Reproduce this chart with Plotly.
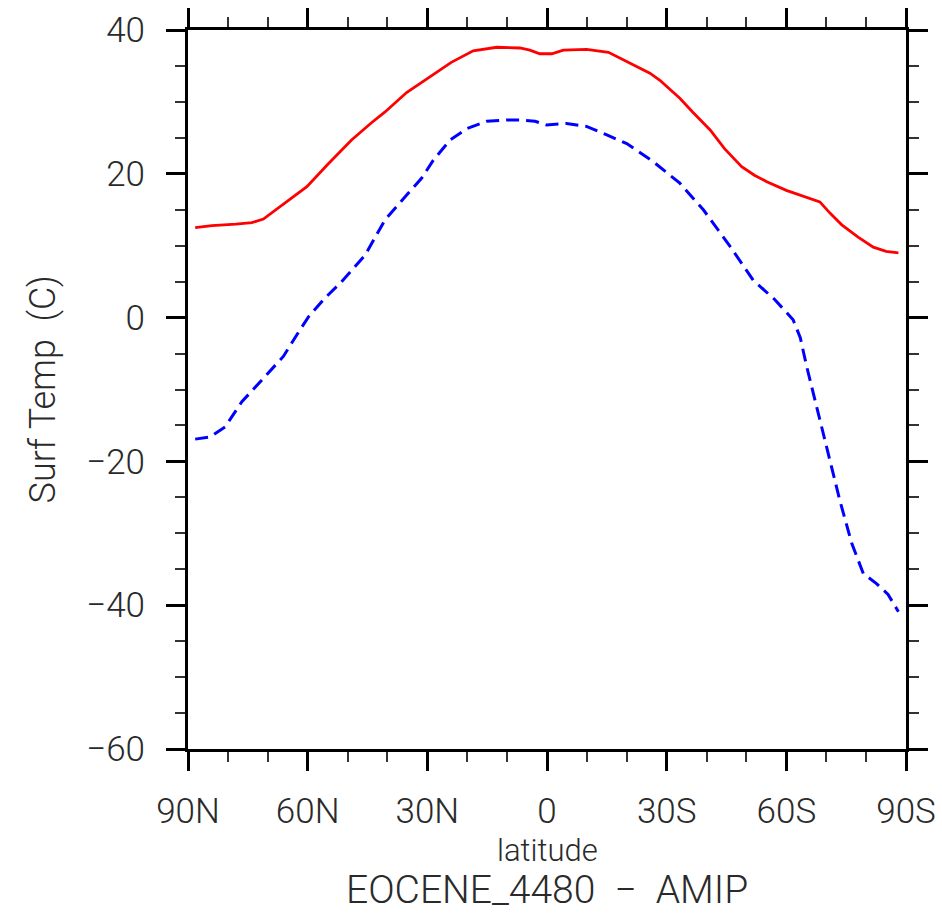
import plotly.graph_objects as go

# latitude (degrees, + = N) and surface temperature (C)
lat_red = [88.2, 84.0, 78.0, 74.0, 71.1, 66.0, 60.2, 55.0, 49.0, 44.0, 40.6, 35.2, 31.8, 28.1, 24.0,
           18.5, 12.6, 6.8, 4.3, 1.8, -1.2, -4.1, -9.9, -15.4, -20.0, -25.8, -28.3, -33.3,
           -36.5, -40.9, -44.5, -48.8, -52.0, -55.1, -60.0, -64.0, -68.4, -71.0, -73.9, -78.0,
           -81.8, -85.0, -88.1]
temp_red = [12.5, 12.8, 13.0, 13.2, 13.7, 15.8, 18.2, 21.3, 24.7, 27.1, 28.6, 31.3, 32.6, 34.0, 35.5,
            37.1, 37.6, 37.5, 37.2, 36.7, 36.7, 37.2, 37.3, 36.9, 35.6, 34.0, 33.0, 30.5,
            28.6, 26.1, 23.5, 21.0, 19.8, 18.9, 17.7, 16.9, 16.1, 14.5, 12.9, 11.2,
            9.8, 9.2, 9.0]

lat_blue = [88.2, 84.5, 80.7, 76.5, 70.7, 66.1, 62.5, 59.8, 55.7, 51.5, 45.6, 40.6, 34.8, 31.4,
            28.5, 24.3, 20.0, 15.1, 10.0, 6.8, 3.0, 0.1, -4.9, -9.9, -15.0, -20.0, -26.6, -33.3,
            -39.2, -45.9, -51.7, -57.2, -61.7, -63.5, -65.1, -67.6, -70.5, -73.4, -76.4,
            -79.3, -82.6, -85.5, -88.1]
temp_blue = [-16.9, -16.6, -15.2, -11.7, -8.2, -5.4, -2.2, 0.1, 2.7, 5.0, 8.7, 13.6, 17.3, 19.4,
             21.9, 24.7, 26.3, 27.3, 27.5, 27.5, 27.3, 26.8, 27.0, 26.6, 25.4, 24.2, 21.7, 18.7,
             15.0, 9.9, 5.2, 2.45, -0.3, -2.8, -6.8, -12.4, -18.9, -25.4, -31.4,
             -35.6, -37.0, -38.5, -40.9]

x_tickvals = [90, 60, 30, 0, -30, -60, -90]
x_ticktext = ["90N", "60N", "30N", "0", "30S", "60S", "90S"]
y_tickvals = [40, 20, 0, -20, -40, -60]
y_ticktext = ["40", "20", "0", "\u221220", "\u221240", "\u221260"]

FONT = "Roboto"
TXT = "#2a2a2a"

fig = go.Figure()
fig.add_trace(go.Scatter(x=lat_red, y=temp_red, mode="lines",
                         line=dict(color="#ff0000", width=2.8), showlegend=False))
fig.add_trace(go.Scatter(x=lat_blue, y=temp_blue, mode="lines",
                         line=dict(color="#0000ff", width=3, dash="13px,7px"), showlegend=False))

axis_common = dict(
    showgrid=False, zeroline=False, showline=True, linecolor="black", linewidth=3,
    mirror="allticks", ticks="outside", ticklen=19, tickwidth=3, tickcolor="black",
    tickfont=dict(family=FONT, size=35, color=TXT, weight=300),
    automargin=False,
)

fig.update_xaxes(
    range=[90, -90], tickmode="array", tickvals=x_tickvals, ticktext=x_ticktext,
    minor=dict(dtick=10, ticks="outside", ticklen=10, tickwidth=2, tickcolor="#333"),
    ticklabelstandoff=10,
    **axis_common,
)
fig.update_yaxes(
    range=[-60, 40], tickmode="array", tickvals=y_tickvals, ticktext=y_ticktext,
    minor=dict(dtick=5, ticks="outside", ticklen=10, tickwidth=2, tickcolor="#333"),
    ticklabelstandoff=14,
    **axis_common,
)

fig.add_annotation(text="Surf\u00a0Temp\u00a0\u00a0(C)", textangle=-90, xref="paper", yref="paper",
                   x=-0.202, y=0.5, xanchor="center", yanchor="middle", showarrow=False,
                   font=dict(family=FONT, size=36, color=TXT, weight=300))
fig.add_annotation(text="latitude", xref="paper", yref="paper",
                   x=0.5, y=-0.1405, xanchor="center", yanchor="middle", showarrow=False,
                   borderpad=0, font=dict(family=FONT, size=31, color=TXT, weight=300))
fig.add_annotation(text="EOCENE_4480\u00a0\u00a0\u2212\u00a0\u00a0AMIP", xref="paper", yref="paper",
                   x=0.5, y=-0.196, xanchor="center", yanchor="middle", showarrow=False,
                   borderpad=0, font=dict(family=FONT, size=39, color=TXT, weight=300))

fig.update_layout(
    width=942, height=916,
    margin=dict(l=188, r=36, t=30, b=167, pad=0),
    plot_bgcolor="white", paper_bgcolor="white",
)

fig.write_html("out.html")
